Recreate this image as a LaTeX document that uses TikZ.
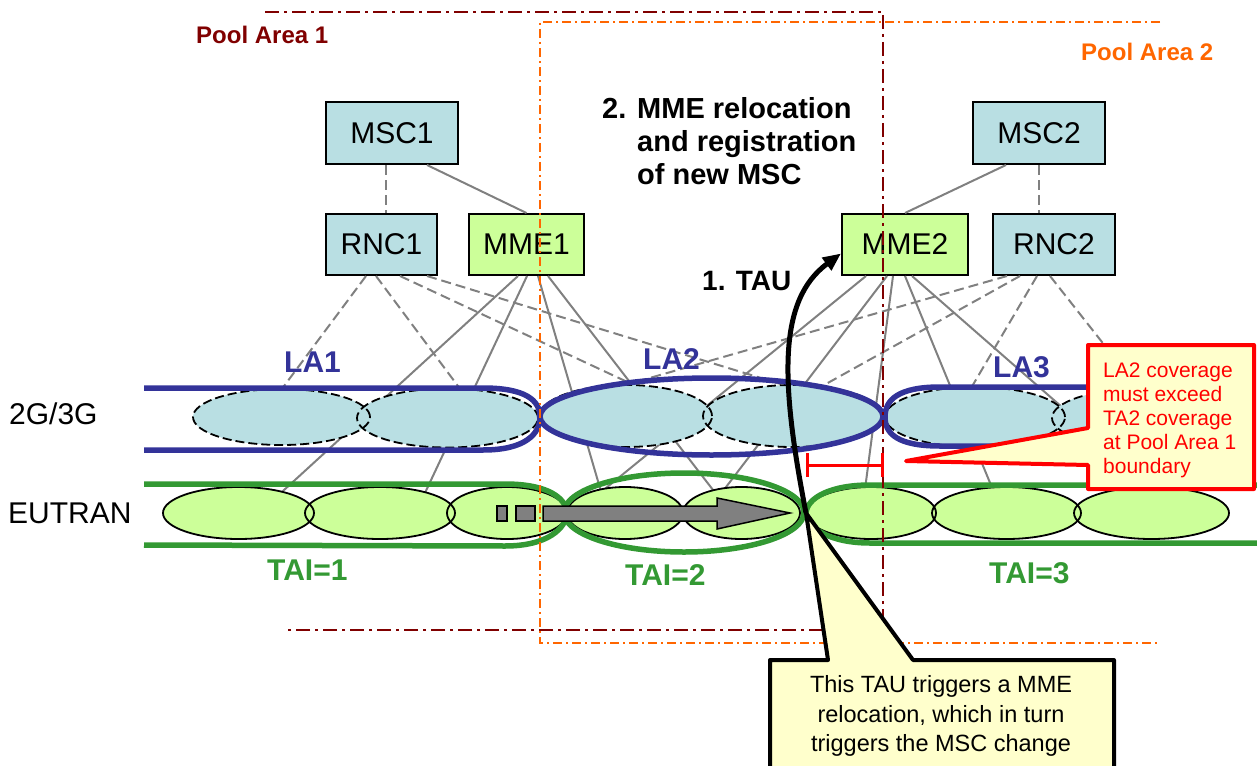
\documentclass[tikz,border=0pt]{standalone}
\usepackage{fontspec}
\setmainfont{Liberation Sans}
\usetikzlibrary{arrows.meta}
\definecolor{cellblue}{RGB}{185,223,227}
\definecolor{cellgreen}{RGB}{204,255,153}
\definecolor{bandblue}{RGB}{51,51,153}
\definecolor{bandgreen}{RGB}{51,153,51}
\definecolor{pooldark}{RGB}{128,0,0}
\definecolor{poolorange}{RGB}{255,102,0}
\definecolor{noteyellow}{RGB}{255,255,204}
\definecolor{linkgray}{RGB}{128,128,128}
\begin{document}
\begin{tikzpicture}[x=1pt,y=-1pt,
  netbox/.style={draw=black, line width=2pt, inner sep=0pt, font=\fontsize{30}{36}\selectfont},
  rncbox/.style={netbox, fill=cellblue},
  mmebox/.style={netbox, fill=cellgreen},
  solidlink/.style={draw=linkgray, line width=2pt},
  dashlink/.style={draw=linkgray, line width=2pt, dash pattern=on 10pt off 5pt},
  lacell/.style={draw=black, line width=1.8pt, dash pattern=on 9pt off 4pt},
  ecell/.style={draw=black, line width=1.8pt},
  laband/.style={draw=bandblue, line width=5.5pt},
  taband/.style={draw=bandgreen, line width=5.5pt},
  poolone/.style={draw=pooldark, line width=2.5pt, dash pattern=on 14pt off 5pt on 3pt off 5pt},
  pooltwo/.style={draw=poolorange, line width=2pt, dash pattern=on 9pt off 4pt on 2pt off 4pt},
  lalabel/.style={text=bandblue, font=\bfseries\fontsize{30}{36}\selectfont, anchor=base west, inner sep=0pt},
  tailabel/.style={text=bandgreen, font=\bfseries\fontsize{30}{36}\selectfont, anchor=base west, inner sep=0pt},
  rowlabel/.style={font=\fontsize{30}{36}\selectfont, anchor=base west, inner sep=0pt},
  steptext/.style={font=\bfseries\fontsize{29}{35}\selectfont, anchor=base west, inner sep=0pt},
  poollabel/.style={font=\bfseries\fontsize{24}{29}\selectfont, anchor=base west, inner sep=0pt},
  redtext/.style={text=red, font=\fontsize{21}{25}\selectfont, anchor=base west, inner sep=0pt},
  notetext/.style={font=\fontsize{23.5}{28}\selectfont, anchor=base, inner sep=0pt},
  movebox/.style={fill=linkgray, draw=black, line width=1.5pt}
]
\useasboundingbox (0,0) rectangle (1257,765);

% ---- network nodes
\node[rncbox, minimum width=132pt, minimum height=62pt] (MSC1) at (392,133) {MSC1};
\node[rncbox, minimum width=111pt, minimum height=61pt] (RNC1) at (381.5,244.5) {RNC1};
\node[mmebox, minimum width=115pt, minimum height=61pt] (MME1) at (526.5,244.5) {MME1};
\node[mmebox, minimum width=126pt, minimum height=61pt] (MME2) at (905,244.5) {MME2};
\node[rncbox, minimum width=122pt, minimum height=61pt] (RNC2) at (1054,244.5) {RNC2};
\node[rncbox, minimum width=132pt, minimum height=62pt] (MSC2) at (1039,133) {MSC2};

% ---- target points inside the cells
\coordinate (r1a) at (261,417);
\coordinate (r1b) at (481,417);
\coordinate (r1c) at (666,400);
\coordinate (r1d) at (810,393);
\coordinate (m1a) at (260,512);
\coordinate (m1b) at (416,512);
\coordinate (m1c) at (607,512);
\coordinate (m1d) at (730,512);
\coordinate (m2a) at (595,497);
\coordinate (m2b) at (707,512);
\coordinate (m2c) at (862,512);
\coordinate (m2d) at (1002,512);
\coordinate (m2e) at (1182,512);
\coordinate (r2a) at (590,395);
\coordinate (r2b) at (790,404);
\coordinate (r2c) at (954,417);
\coordinate (r2d) at (1161,417);

% ---- connectors (behind the cells)
\draw[dashlink] ([xshift=-6pt]MSC1.south) -- ([xshift=-6pt]MSC1.south |- RNC1.north);
\draw[solidlink] ([xshift=35pt]MSC1.south) -- (MME1.north);
\draw[solidlink] ([xshift=-33pt]MSC2.south) -- (MME2.north);
\draw[dashlink] (MSC2.south) -- (MSC2.south |- RNC2.north);

\draw[dashlink] ([xshift=-15.5pt]RNC1.south) -- (r1a);
\draw[dashlink] ([xshift=-5.5pt]RNC1.south) -- (r1b);
\draw[dashlink] ([xshift=18.5pt]RNC1.south) -- (r1c);
\draw[dashlink] ([xshift=45.5pt]RNC1.south) -- (r1d);

\draw[solidlink] ([xshift=-8.5pt]MME1.south) -- (m1a);
\draw[solidlink] ([xshift=0.5pt]MME1.south) -- (m1b);
\draw[solidlink] ([xshift=11.5pt]MME1.south) -- (m1c);
\draw[solidlink] ([xshift=21.5pt]MME1.south) -- (m1d);

\draw[solidlink] ([xshift=-39pt]MME2.south) -- (m2a);
\draw[solidlink] ([xshift=-18pt]MME2.south) -- (m2b);
\draw[solidlink] ([xshift=-12pt]MME2.south) -- (m2c);
\draw[solidlink] (MME2.south) -- (m2d);
\draw[solidlink] ([xshift=7pt]MME2.south) -- (m2e);

\draw[dashlink] ([xshift=-47pt]RNC2.south) -- (r2a);
\draw[dashlink] ([xshift=-34pt]RNC2.south) -- (r2b);
\draw[dashlink] ([xshift=-17pt]RNC2.south) -- (r2c);
\draw[dashlink] ([xshift=-4pt]RNC2.south) -- (r2d);

% ---- cells
\foreach \cx/\cy/\rx/\ry in {281.5/417/88.5/28, 447.5/418/90.5/29.5, 626/416/86/31, 792.5/416/89.5/31, 975/417/90/30, 1140/418/88/29}
  \fill[cellblue] (\cx,\cy) ellipse [x radius=\rx pt, y radius=\ry pt];
\foreach \cx/\cy/\rx/\ry in {281.5/417/88.5/28, 447.5/418/90.5/29.5, 626/416/86/31, 792.5/416/89.5/31, 975/417/90/30, 1140/418/88/29}
  \draw[lacell] (\cx,\cy) ellipse [x radius=\rx pt, y radius=\ry pt];
\foreach \cx/\rx in {238.5/75.5, 380/75, 507/60, 625/58, 741.5/58.5, 871/65, 1006.5/74.5, 1151.5/77.5}
  \fill[cellgreen] (\cx,513) ellipse [x radius=\rx pt, y radius=26pt];
\foreach \cx/\rx in {238.5/75.5, 380/75, 507/60, 625/58, 741.5/58.5, 871/65, 1006.5/74.5, 1151.5/77.5}
  \draw[ecell] (\cx,513) ellipse [x radius=\rx pt, y radius=26pt];

% ---- location / tracking area bands
\draw[laband] (144,388) -- (483,388) .. controls (525,388) and (540,400) .. (540,417)
              .. controls (540,434) and (525,450) .. (483,450) -- (144,450);
\draw[laband] (711.5,416.5) ellipse [x radius=171.5pt, y radius=38.5pt];
\draw[laband] (1252,387) -- (940,387) .. controls (898,387) and (885,400) .. (885,417)
              .. controls (885,434) and (898,446) .. (940,446) -- (1252,446);
\draw[taband] (144,484) -- (505,484) .. controls (548,484) and (566,498) .. (567,513)
              .. controls (566,528) and (548,546) .. (505,546) -- (144,545);
\draw[taband] (684,512.5) ellipse [x radius=120pt, y radius=39.5pt];
\draw[taband] (1257,485) -- (870,485) .. controls (830,485) and (807,498) .. (806,513)
              .. controls (807,528) and (830,543) .. (870,543) -- (1257,543);

% ---- movement arrow
\draw[movebox] (497,506) rectangle (507,521);
\draw[movebox] (516,506) rectangle (535,521);
\draw[movebox] (543,506) -- (717,506) -- (717,498) -- (790,513) -- (717,529) -- (717,521) -- (543,521) -- cycle;

% ---- pool area boundaries
\draw[poolone] (265,12) -- (883,12) -- (883,630) -- (284,630);
\draw[pooltwo] (1160,22) -- (540,22) -- (540,643) -- (1160,643);

% ---- coverage difference bar
\draw[red, line width=3pt] (807,453) -- (807,477) (807,465) -- (882,465) (882,453) -- (882,477);

% ---- TAU arrow
\coordinate (tau) at (806,513);
\draw[line width=5pt, -{Triangle[length=18pt,width=15pt]}] (tau) .. controls (780,380) and (778,300) .. (MME2.188);

% ---- callouts
\draw[draw=red, fill=noteyellow, line width=4pt, line join=round]
  (1088,345) -- (1254,345) -- (1254,489) -- (1088,489) -- (1088,465) -- (906,461) -- (1088,428) -- cycle;
\node[redtext] (red1) at (1103,377) {LA2 coverage};
\node[redtext] (red2) at (1103,401) {must exceed};
\node[redtext] (red3) at (1103,425) {TA2 coverage};
\node[redtext] (red4) at (1103,449) {at Pool Area 1};
\node[redtext] (red5) at (1103,473) {boundary};

\draw[draw=black, fill=noteyellow, line width=4pt, line join=round]
  (770,790) -- (770,660) -- (828,660) -- (tau) -- (913,660) -- (1114,660) -- (1114,790) -- cycle;
\node[notetext] (note1) at (941,692) {This TAU triggers a MME};
\node[notetext] (note2) at (941,722) {relocation, which in turn};
\node[notetext] (note3) at (941,751) {triggers the MSC change};

% ---- labels
\node[poollabel, text=pooldark] (pool1) at (196,44) {Pool Area 1};
\node[poollabel, text=poolorange] (pool2) at (1081,61) {Pool Area 2};
\node[steptext] (step2n) at (602,118) {2.};
\node[steptext] (step2a) at (637,118) {MME relocation};
\node[steptext] (step2b) at (637,151) {and registration};
\node[steptext] (step2c) at (637,184) {of new MSC};
\node[steptext, font=\bfseries\fontsize{28}{34}\selectfont] (tau1) at (702,290) {1. TAU};
\node[lalabel] (la1) at (284,372) {LA1};
\node[lalabel] (la2) at (643,369) {LA2};
\node[lalabel] (la3) at (993,377) {LA3};
\node[tailabel] (tai1) at (267,580) {TAI=1};
\node[tailabel] (tai2) at (625,585) {TAI=2};
\node[tailabel] (tai3) at (989,583) {TAI=3};
\node[rowlabel] (row1) at (9,424) {2G/3G};
\node[rowlabel] (row2) at (8,523) {EUTRAN};
\end{tikzpicture}
\end{document}
